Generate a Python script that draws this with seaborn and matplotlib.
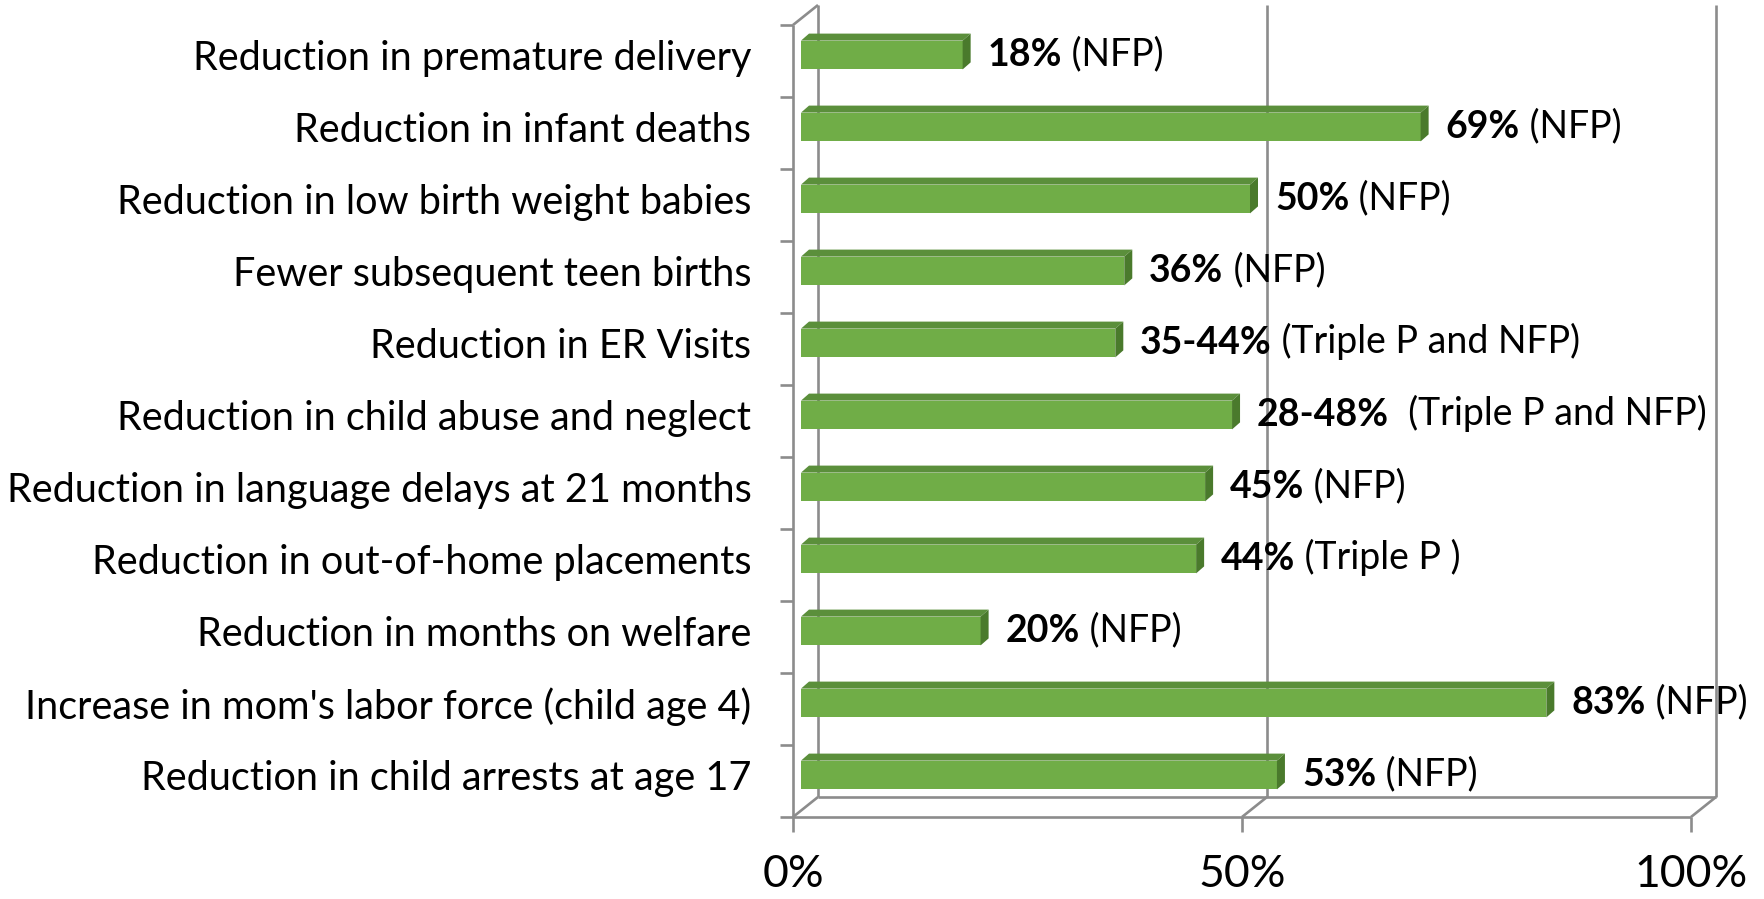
import numpy as np
import pandas as pd
import matplotlib
matplotlib.use('Agg')
import matplotlib.pyplot as plt
import matplotlib.transforms as mtransforms
from matplotlib.patches import Polygon
import seaborn as sns

# --- data ---
categories = [
    'Reduction in premature delivery',
    'Reduction in infant deaths',
    'Reduction in low birth weight babies',
    'Fewer subsequent teen births',
    'Reduction in ER Visits',
    'Reduction in child abuse and neglect',
    'Reduction in language delays at 21 months',
    'Reduction in out-of-home placements',
    'Reduction in months on welfare',
    "Increase in mom's labor force (child age 4)",
    'Reduction in child arrests at age 17',
]
values = [0.18, 0.69, 0.50, 0.36, 0.35, 0.48, 0.45, 0.44, 0.20, 0.83, 0.53]
value_labels = ['18%', '69%', '50%', '36%', '35-44%', '28-48%', '45%', '44%', '20%', '83%', '53%']
source_labels = ['(NFP)', '(NFP)', '(NFP)', '(NFP)', '(Triple P and NFP)', ' (Triple P and NFP)',
                 '(NFP)', '(Triple P )', '(NFP)', '(NFP)', '(NFP)']
x_ticks = [0, 0.5, 1.0]
x_tick_labels = ['0%', '50%', '100%']

df = pd.DataFrame({'category': categories, 'value': values})

sns.set_style('white')
plt.rcParams['font.family'] = ['Lato', 'DejaVu Sans']
plt.rcParams['text.color'] = 'black'

# colours
front_green = '#70AD47'
top_green = '#5B8F3B'
side_green = '#4A7A2C'
frame_gray = '#8C8C8C'

# geometry in pixels (dpi 100)
W, H = 1764, 899
ax_left, ax_right, ax_top, ax_bottom = 793, 1691, 25, 817
px_x = ax_right - ax_left              # pixels per 100 %
n = len(categories)
px_y = (ax_bottom - ax_top) / n        # pixels per category
depth_dx, depth_dy = 25, 20            # back wall offset (right, up)
bar_dx, bar_dy = 8, 6                  # bar plane offset from front plane
face_dx, face_dy = 8, 7                # bar top / side face depth

fig = plt.figure(figsize=(W / 100, H / 100), dpi=100)
ax = fig.add_axes([ax_left / W, (H - ax_bottom) / H, px_x / W, (ax_bottom - ax_top) / H])

bar_trans = ax.transData + mtransforms.ScaledTranslation(bar_dx / 100, bar_dy / 100, fig.dpi_scale_trans)

sns.barplot(data=df, x='value', y='category', orient='h', width=0.4, color=front_green,
            saturation=1, linewidth=0, ax=ax)
ax.set_xlim(0, 1)
ax.set_ylim(n - 0.5, -0.5)

# shift bars to their plane and add the 3D faces
fdx = face_dx / px_x
fdy = face_dy / px_y
for p in ax.patches:
    p.set_transform(bar_trans)
    p.set_zorder(2)
    x0, y0 = p.get_x(), p.get_y()
    w, h = p.get_width(), p.get_height()
    y_top, y_bot = y0, y0 + h
    top = Polygon([(x0, y_top), (x0 + w, y_top), (x0 + w + fdx, y_top - fdy), (x0 + fdx, y_top - fdy)],
                  closed=True, facecolor=top_green, edgecolor='none', transform=bar_trans, zorder=2)
    side = Polygon([(x0 + w, y_top), (x0 + w, y_bot), (x0 + w + fdx, y_bot - fdy), (x0 + w + fdx, y_top - fdy)],
                   closed=True, facecolor=side_green, edgecolor='none', transform=bar_trans, zorder=2)
    ax.add_patch(top)
    ax.add_patch(side)

# 3D frame: back wall and floor
bx = depth_dx / px_x
by = -depth_dy / px_y
y_lo, y_hi = -0.5, n - 0.5
line_kw = dict(color=frame_gray, lw=1.9, clip_on=False, solid_capstyle='butt')
ax.plot([0, 0], [y_lo, y_hi], zorder=3, **line_kw)
ax.plot([0, 1], [y_hi, y_hi], zorder=3, **line_kw)
for xv in x_ticks:
    ax.plot([xv + bx, xv + bx], [y_lo + by, y_hi + by], zorder=1, **line_kw)
    ax.plot([xv, xv + bx], [y_hi, y_hi + by], zorder=1, **line_kw)
ax.plot([bx, 1 + bx], [y_hi + by, y_hi + by], zorder=1, **line_kw)
ax.plot([0, bx], [y_lo, y_lo + by], zorder=1, **line_kw)

for s in ax.spines.values():
    s.set_visible(False)

# ticks
ax.set_xticks(x_ticks)
ax.set_xticklabels(x_tick_labels)
ax.set_yticks(np.arange(n), minor=False)
ax.set_yticks(np.arange(n + 1) - 0.5, minor=True)
ax.tick_params(axis='x', which='major', bottom=True, direction='out', length=10.8, width=1.9,
               color=frame_gray, labelsize=32, pad=16, labelcolor='black')
ax.tick_params(axis='y', which='major', left=True, length=0, pad=30, labelsize=28.5, labelcolor='black')
ax.tick_params(axis='y', which='minor', left=True, direction='out', length=9.4, width=1.9, color=frame_gray)
ax.set_xlabel('')
ax.set_ylabel('')
label_shift = mtransforms.ScaledTranslation(0, bar_dy / 100, fig.dpi_scale_trans)
for lab in ax.get_yticklabels():
    lab.set_transform(lab.get_transform() + label_shift)

# value annotations
for i, (v, vl, sl) in enumerate(zip(values, value_labels, source_labels)):
    t = ax.annotate(vl, xy=(v, i), xycoords=bar_trans, xytext=(18, 0), textcoords='offset points',
                    ha='left', va='center', fontsize=27, fontweight='bold', zorder=4)
    ax.annotate(' ' + sl, xy=(1, 0), xycoords=t, ha='left', va='bottom', fontsize=27, zorder=4)

fig.savefig('out.png', dpi=100)
